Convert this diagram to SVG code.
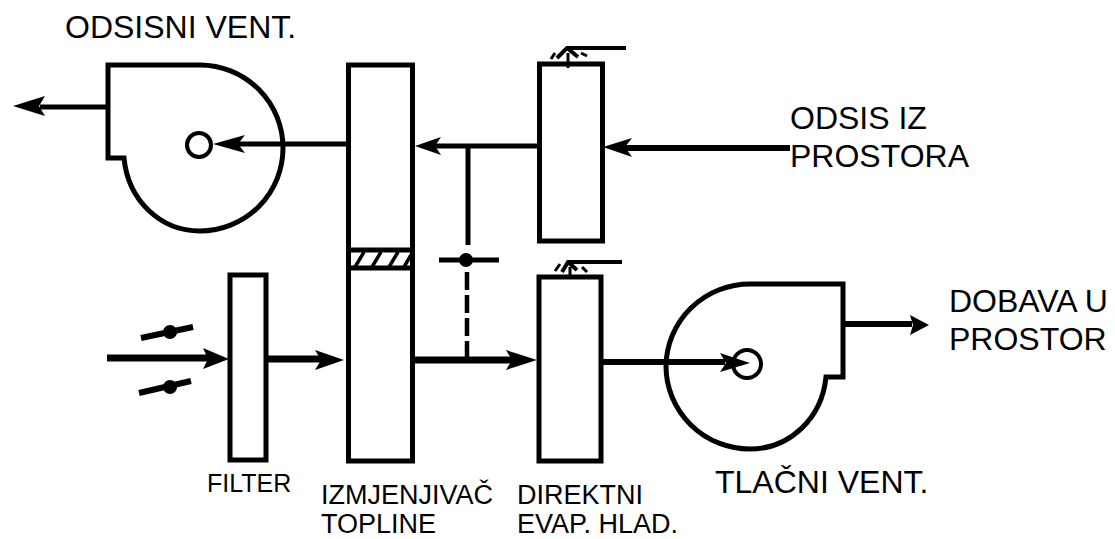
<svg xmlns="http://www.w3.org/2000/svg" width="1115" height="539" viewBox="0 0 1115 539">
<style>
.box{fill:none;stroke:#000;stroke-width:5}
.fan{fill:none;stroke:#000;stroke-width:5}
.ln{fill:none;stroke:#000;stroke-width:5}
.thin{fill:none;stroke:#000;stroke-width:3}
.hv{fill:none;stroke:#000;stroke-width:7}
.head{fill:#000;stroke:none}
text{font-family:"Liberation Sans",Arial,sans-serif;fill:#000}
.lg{font-size:32px}
.md{font-size:27px}
</style>
<rect width="1115" height="539" fill="#fff"/>
<g id="connectors">
<path class="ln" d="M107 107H40"/><path class="head" d="M13 106L45 96L39 106L45 116Z"/>
<path class="ln" d="M346 144H235"/><path class="head" d="M213 144L245 135L238 144L245 153Z"/>
<path class="ln" d="M538 146H435"/><path class="head" d="M415 146L441 137L435 146L441 155Z"/>
<path class="ln" style="stroke-width:6" d="M790 148H625"/><path class="head" d="M603 147L632 138L625 147L632 157Z"/>
<path class="ln" d="M468 146V245"/>
<path class="ln" d="M439 260H499"/><circle cx="466" cy="260" r="7"/>
<path class="ln" style="stroke-width:4.500" stroke-dasharray="18 5" d="M467 272V358"/>
<path class="hv" d="M107 358H210"/><path class="head" d="M229 359L203 348L208 359L203 369Z"/>
<path class="hv" d="M268 359H322"/><path class="head" d="M344 360L315 350L321 360L315 370Z"/>
<path class="hv" d="M414 360H515"/><path class="head" d="M537 360L506 350L512 360L506 370Z"/>
<path class="ln" style="stroke-width:6" d="M603 362H725"/><path class="head" d="M750 363L720 353L726 363L720 372Z"/>
<path class="ln" style="stroke-width:6" d="M843 324H912"/><path class="head" d="M929 325L910 315L913 325L910 335Z"/>
<path class="ln" style="stroke-width:6" d="M141 338L193 327"/><circle cx="170" cy="332" r="7"/>
<path class="ln" style="stroke-width:6" d="M139 393L191 381"/><circle cx="170" cy="387" r="7"/>
</g>
<g id="exhaust-fan">
<path class="fan" d="M108 65H200A83 83 0 0 1 283 148A83 83 0 0 1 200 231C160 231 128 200 124 158H108Z"/>
<circle class="ln" style="stroke-width:4" cx="199" cy="145" r="12"/>
</g>
<g id="heat-exchanger">
<rect class="box" x="348.500" y="65" width="64" height="396"/>
<path class="ln" d="M349 250H413M349 268H413"/>
<path class="ln" style="stroke-width:3.500" d="M355 267L364 252M372 267L381 252M389 267L398 252M404 267L411 255"/>
</g>
<g id="filter"><rect class="box" x="230" y="275" width="36" height="185"/></g>
<g id="evap-top">
<rect class="box" x="539.500" y="64" width="63" height="177"/>
<path class="ln" style="stroke-width:4" d="M626 48H567L557 58M567 48L578 57"/>
<path class="thin" d="M568 53V68M551 59L555 53M581 53L587 56"/>
</g>
<g id="evap-bottom">
<rect class="box" x="539" y="277" width="62" height="184"/>
<path class="ln" style="stroke-width:4" d="M622 262H568L562 272M568 262L577 270"/>
<path class="thin" d="M570 267V277M555 271L560 264M582 267L587 272"/>
</g>
<g id="supply-fan">
<path class="fan" d="M843 284H750A84 83 0 0 0 666 366A84 83 0 0 0 750 449C790 449 822 418 826 377H843Z"/>
<circle class="ln" style="stroke-width:4" cx="747" cy="364" r="14"/>
</g>
<g id="labels">
<text class="lg" x="65" y="38">ODSISNI VENT.</text>
<text class="lg" x="790" y="129">ODSIS IZ</text>
<text class="lg" x="790" y="167">PROSTORA</text>
<text class="lg" x="949" y="312">DOBAVA U</text>
<text class="lg" x="949" y="350">PROSTOR</text>
<text class="lg" x="715" y="493">TLAČNI VENT.</text>
<text class="md" x="207" y="492" style="font-size:25px">FILTER</text>
<text class="md" x="321" y="504">IZMJENJIVAČ</text>
<text class="md" x="321" y="533">TOPLINE</text>
<text class="md" x="517" y="504">DIREKTNI</text>
<text class="md" x="517" y="533">EVAP. HLAD.</text>
</g>
</svg>
